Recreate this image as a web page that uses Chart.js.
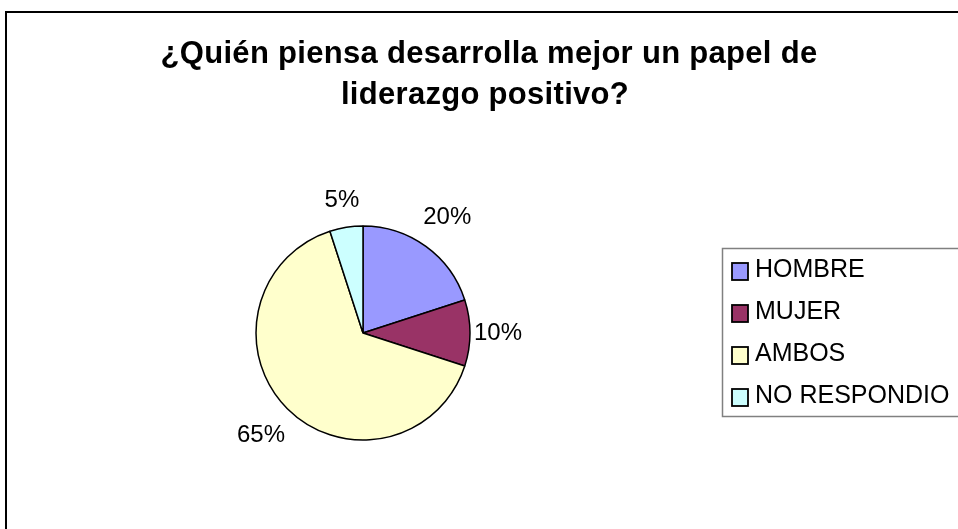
<!DOCTYPE html>
<html lang="es">
<head>
    <meta charset="UTF-8">
    <title>¿Quién piensa desarrolla mejor un papel de liderazgo positivo?</title>
    <script src="https://cdn.jsdelivr.net/npm/chart.js"></script>
    <style>
        html, body { margin: 0; padding: 0; background: #fff; }
        #wrap { width: 958px; height: 529px; }
    </style>
</head>
<body>
    <div id="wrap">
        <canvas id="pieChart" width="958" height="529"></canvas>
    </div>

    <script>
        // Chart data
        const categories = ['HOMBRE', 'MUJER', 'AMBOS', 'NO RESPONDIO'];
        const percentages = [20, 10, 65, 5];
        const titleLines = ['¿Quién piensa desarrolla mejor un papel de', 'liderazgo positivo?'];

        const sliceColors = ['#9999FF', '#993366', '#FFFFCC', '#CCFFFF'];
        const FONT = '"Liberation Sans", Arial, sans-serif';

        // Frame, title, outside labels and legend box (Excel style)
        const excelDecor = {
            id: 'excelDecor',
            afterDraw(chart) {
                const ctx = chart.ctx;
                ctx.save();

                // outer frame
                ctx.strokeStyle = '#000';
                ctx.lineWidth = 2;
                ctx.strokeRect(6, 12, 1000, 1000);

                // title
                ctx.fillStyle = '#000';
                ctx.font = 'bold 31px ' + FONT;
                ctx.letterSpacing = '0.3px';
                ctx.textAlign = 'center';
                ctx.textBaseline = 'alphabetic';
                ctx.fillText(titleLines[0], 489, 63);
                ctx.fillText(titleLines[1], 485, 104);
                ctx.letterSpacing = '0px';

                // percentage labels outside the slices
                ctx.font = '24px ' + FONT;
                ctx.textBaseline = 'middle';
                const meta = chart.getDatasetMeta(0);
                meta.data.forEach((arc, i) => {
                    const p = arc.getProps(['x', 'y', 'startAngle', 'endAngle', 'outerRadius'], true);
                    const mid = (p.startAngle + p.endAngle) / 2;
                    const dx = Math.cos(mid), dy = Math.sin(mid);
                    const d = p.outerRadius - 3 + Math.abs(dx) * 31 + Math.abs(dy) * 26;
                    ctx.fillText(percentages[i] + '%', p.x + dx * d, p.y + dy * d);
                });

                // legend box
                ctx.strokeStyle = '#808080';
                ctx.lineWidth = 1.5;
                ctx.strokeRect(722.5, 248.5, 400, 168);

                ctx.textAlign = 'left';
                ctx.textBaseline = 'alphabetic';
                ctx.font = '25px ' + FONT;
                categories.forEach((name, i) => {
                    const base = 277 + i * 42;
                    ctx.fillStyle = sliceColors[i];
                    ctx.fillRect(732, base - 14, 16, 17);
                    ctx.strokeStyle = '#000';
                    ctx.lineWidth = 1.8;
                    ctx.strokeRect(732, base - 14, 16, 17);
                    ctx.fillStyle = '#000';
                    ctx.fillText(name, 755, base);
                });

                ctx.restore();
            }
        };

        new Chart(document.getElementById('pieChart').getContext('2d'), {
            type: 'pie',
            data: {
                labels: categories,
                datasets: [{
                    data: percentages,
                    backgroundColor: sliceColors,
                    borderColor: '#000',
                    borderWidth: 1.5,
                    radius: 107
                }]
            },
            options: {
                responsive: false,
                animation: false,
                layout: {
                    padding: { left: 256, right: 488, top: 226, bottom: 89 }
                },
                plugins: {
                    legend: { display: false },
                    title: { display: false },
                    tooltip: { enabled: false }
                }
            },
            plugins: [excelDecor]
        });
    </script>
</body>
</html>
